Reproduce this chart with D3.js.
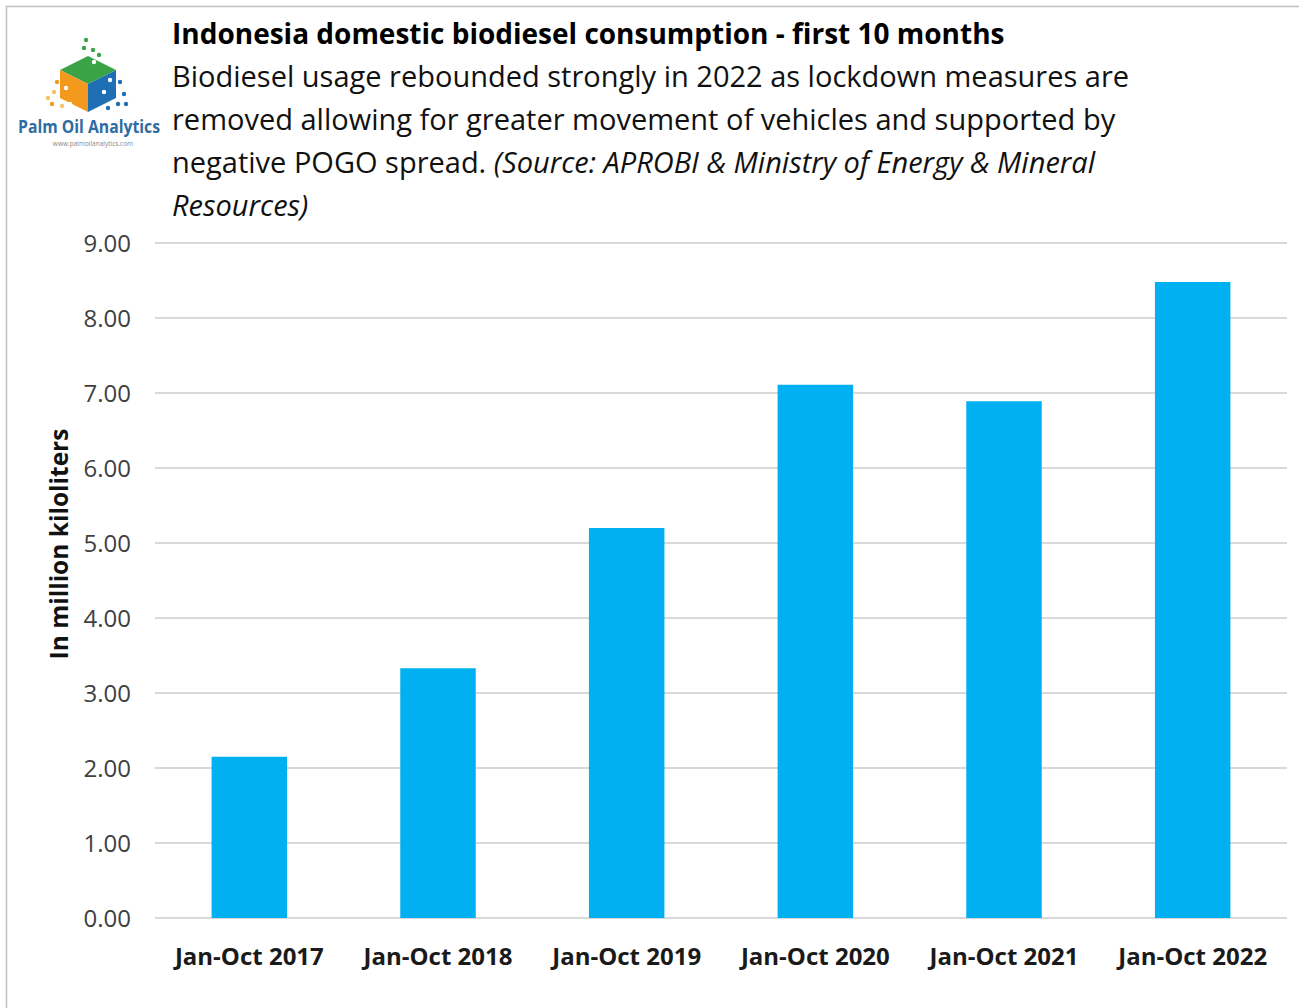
<!DOCTYPE html>
<html>
<head>
<meta charset="utf-8">
<script src="https://cdn.jsdelivr.net/npm/d3@7"></script>
<style>
  body { margin: 0; background: #fff; }
  svg { display: block; }
  text { font-family: "Open Sans", sans-serif; }
</style>
</head>
<body>
<div id="chart"></div>
<script>
// chart data
var categories = ["Jan-Oct 2017", "Jan-Oct 2018", "Jan-Oct 2019", "Jan-Oct 2020", "Jan-Oct 2021", "Jan-Oct 2022"];
var values = [2.15, 3.33, 5.20, 7.11, 6.89, 8.48];
var yTicks = [0, 1, 2, 3, 4, 5, 6, 7, 8, 9];

var titleText = "Indonesia domestic biodiesel consumption - first 10 months";
var subtitleLines = [
  [{t: "Biodiesel usage rebounded strongly in 2022 as lockdown measures are"}],
  [{t: "removed allowing for greater movement of vehicles and supported by"}],
  [{t: "negative POGO spread. "}, {t: "(Source: APROBI & Ministry of Energy & Mineral", i: true}],
  [{t: "Resources)", i: true}]
];
var yTitle = "In million kiloliters";

function init() {
  var w = 1299, h = 1008;
  var left = 155, right = 1287, top = 243, bottom = 918;

  var svg = d3.select("#chart").append("svg")
      .attr("width", w)
      .attr("height", h);

  // frame
  svg.append("rect")
    .attr("x", 6.5).attr("y", 6.5)
    .attr("width", w).attr("height", h)
    .attr("fill", "none")
    .attr("stroke", "#bfbfbf")
    .attr("stroke-width", 1.5);

  // logo
  var logo = svg.append("g");
  logo.append("path").attr("d", "M88,56 L116,70 L88,84 L60,70 Z").attr("fill", "#3aa346");
  logo.append("path").attr("d", "M60,70 L88,84 L88,112 L60,98 Z").attr("fill", "#f39a1e");
  logo.append("path").attr("d", "M88,84 L116,70 L116,98 L88,112 Z").attr("fill", "#1f6fb5");
  var dots = [[86,40,"#3aa346"],[84,48,"#3aa346"],[93,50,"#3aa346"],[99,55,"#3aa346"],[76,58,"#fff"],[94,62,"#fff"],
              [104,60,"#fff"],[57,82,"#f39a1e"],[54,92,"#f6c26b"],[52,104,"#f39a1e"],[62,106,"#f6c26b"],[70,104,"#fff"],
              [120,82,"#1f6fb5"],[124,94,"#1f6fb5"],[118,104,"#1f6fb5"],[108,108,"#1f6fb5"],[104,92,"#fff"],[110,80,"#fff"],
              [126,104,"#1f6fb5"],[66,88,"#fff"],[48,98,"#f6c26b"]];
  logo.selectAll("circle").data(dots).enter().append("circle")
    .attr("cx", function(d) { return d[0]; })
    .attr("cy", function(d) { return d[1]; })
    .attr("r", 2.2)
    .attr("fill", function(d) { return d[2]; });
  logo.append("text")
    .attr("x", 89).attr("y", 133)
    .attr("text-anchor", "middle")
    .attr("font-size", 17).attr("font-weight", "bold")
    .attr("fill", "#2e6da4")
    .attr("textLength", 142)
    .attr("lengthAdjust", "spacingAndGlyphs")
    .text("Palm Oil Analytics");
  logo.append("text")
    .attr("x", 93).attr("y", 146)
    .attr("text-anchor", "middle")
    .attr("font-size", 6.5)
    .attr("fill", "#888")
    .text("www.palmoilanalytics.com");

  // title + subtitle
  svg.append("text")
    .attr("x", 172).attr("y", 44)
    .attr("font-size", 28).attr("font-weight", "bold")
    .attr("fill", "#000")
    .text(titleText);

  subtitleLines.forEach(function(line, i) {
    var t = svg.append("text")
      .attr("x", 172).attr("y", 87 + i * 43)
      .attr("font-size", 29)
      .attr("fill", "#111");
    line.forEach(function(seg) {
      t.append("tspan")
        .attr("font-style", seg.i ? "italic" : "normal")
        .text(seg.t);
    });
  });

  var xScale = d3.scaleBand()
      .domain(categories)
      .range([left, right])
      .paddingInner(0.6)
      .paddingOuter(0.3);

  var yScale = d3.scaleLinear()
      .domain([0, 9])
      .range([bottom, top]);

  // grid
  svg.append("g").selectAll("line")
    .data(yTicks).enter().append("line")
    .attr("x1", left).attr("x2", right)
    .attr("y1", function(d) { return yScale(d); })
    .attr("y2", function(d) { return yScale(d); })
    .attr("stroke", "#d9d9d9")
    .attr("stroke-width", 2);

  // bars
  svg.append("g").selectAll("rect")
    .data(values).enter().append("rect")
    .attr("x", function(d, i) { return xScale(categories[i]); })
    .attr("width", xScale.bandwidth())
    .attr("y", function(d) { return yScale(d); })
    .attr("height", function(d) { return bottom - yScale(d); })
    .attr("fill", "#00b0f0");

  // y axis
  var yAxis = d3.axisLeft(yScale)
      .tickValues(yTicks)
      .tickFormat(d3.format(".2f"))
      .tickSize(0)
      .tickPadding(0);
  var gy = svg.append("g")
      .attr("transform", "translate(131,0)")
      .call(yAxis);
  gy.select(".domain").remove();
  gy.selectAll("text")
    .attr("font-size", 24)
    .attr("fill", "#404040")
    .attr("font-family", "'Open Sans', sans-serif")
    .attr("dy", "0.35em");

  // x axis
  var xAxis = d3.axisBottom(xScale).tickSize(0).tickPadding(0);
  var gx = svg.append("g")
      .attr("transform", "translate(0," + bottom + ")")
      .call(xAxis);
  gx.select(".domain").remove();
  gx.selectAll("text")
    .attr("y", 47)
    .attr("dy", 0)
    .attr("font-size", 24)
    .attr("font-weight", "bold")
    .attr("fill", "#1a1a1a")
    .attr("font-family", "'Open Sans', sans-serif");

  // y title
  svg.append("text")
    .attr("transform", "translate(68," + 544 + ") rotate(-90)")
    .attr("text-anchor", "middle")
    .attr("font-size", 24.5)
    .attr("font-weight", "bold")
    .attr("fill", "#111")
    .text(yTitle);
}

window.onload = init;
</script>
</body>
</html>
